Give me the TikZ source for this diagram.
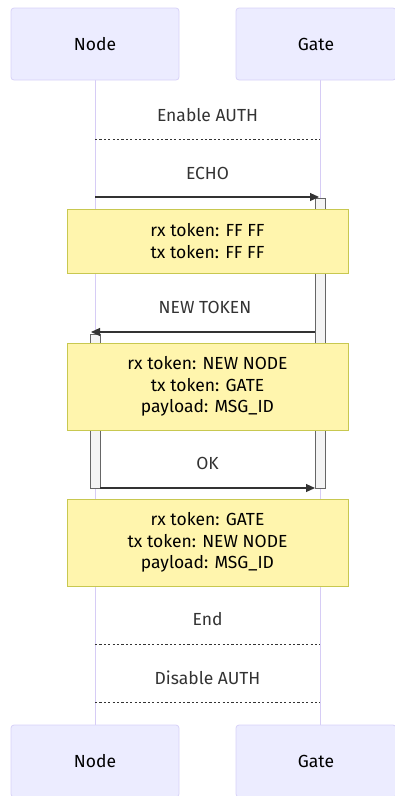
\documentclass[tikz,border=0pt]{standalone}
\usepackage{fontspec}
\setmainfont{Fira Sans}
\usetikzlibrary{arrows.meta}
\definecolor{actorfill}{HTML}{ECECFF}
\definecolor{actorline}{HTML}{D8D2F8}
\definecolor{lifeline}{HTML}{D6CCF5}
\definecolor{notefill}{HTML}{FFF5AD}
\definecolor{noteline}{HTML}{C8C850}
\definecolor{actfill}{HTML}{F4F4F4}
\definecolor{actline}{HTML}{666666}
\definecolor{ink}{HTML}{333333}
\tikzset{
  actor/.style={draw=actorline, fill=actorfill, rounded corners=3pt, line width=0.8pt,
    minimum width=168pt, minimum height=72pt, inner sep=0pt, font=\fontsize{17.5}{20}\selectfont, text=black},
  note/.style={draw=noteline, fill=notefill, line width=0.8pt, minimum width=281pt,
    inner sep=0pt, align=center, font=\fontsize{17.5}{21.5}\selectfont, text=black},
  msglabel/.style={font=\fontsize{17.5}{20}\selectfont, text=ink, inner sep=0pt},
  life/.style={draw=lifeline, line width=1pt},
  activation/.style={draw=actline, fill=actfill, line width=0.5pt},
  msg/.style={draw=ink, line width=1.2pt, -{Triangle[length=9pt,width=8pt]}},
  divider/.style={draw=ink, line width=0.8pt, dash pattern=on 2.2pt off 2.2pt}
}
\begin{document}
\begin{tikzpicture}[x=1pt,y=-1pt]
\useasboundingbox (0,0) rectangle (395,796);
% lifelines
\coordinate (nodeTop) at (95,80);
\coordinate (nodeBot) at (95,725);
\coordinate (gateTop) at (320,80);
\coordinate (gateBot) at (320,725);
\draw[life] (nodeTop) -- (nodeBot);
\draw[life] (gateTop) -- (gateBot);
% participants
\node[actor] (nodeA) at (95,44) {Node};
\node[actor, minimum width=160pt] (gateA) at (316,44) {Gate};
\node[actor] (nodeB) at (95,761) {Node};
\node[actor, minimum width=160pt] (gateB) at (316,761) {Gate};
% activation bars
\draw[activation] (315,198) rectangle (325,488);
\draw[activation] (90,334) rectangle (100,488);
% section dividers
\node[msglabel] (enable) at (207.5,115) {Enable AUTH};
\coordinate (e1) at (95,139); \coordinate (e2) at (320,139);
\draw[divider] (e1) -- (e2);
\node[msglabel] (endl) at (207.5,619) {End};
\coordinate (d1) at (95,644); \coordinate (d2) at (320,644);
\draw[divider] (d1) -- (d2);
\node[msglabel] (disable) at (207.5,678) {Disable AUTH};
\coordinate (f1) at (95,702); \coordinate (f2) at (320,702);
\draw[divider] (f1) -- (f2);
% messages
\node[msglabel] (echo) at (207.5,173) {ECHO};
\coordinate (m1a) at (95,197); \coordinate (m1b) at (319,197);
\draw[msg] (m1a) -- (m1b);
\node[msglabel] (newtok) at (205,307) {NEW TOKEN};
\coordinate (m2a) at (315,332); \coordinate (m2b) at (91,332);
\draw[msg] (m2a) -- (m2b);
\node[msglabel] (ok) at (207.5,463) {OK};
\coordinate (m3a) at (100,488); \coordinate (m3b) at (315,488);
\draw[msg] (m3a) -- (m3b);
% notes
\node[note, minimum height=64pt] (n1) at (207.5,241) {rx token: FF FF\\tx token: FF FF};
\node[note, minimum height=87pt] (n2) at (207.5,386.5) {rx token: NEW NODE\\tx token: GATE\\payload: MSG\_ID};
\node[note, minimum height=87pt] (n3) at (207.5,542.5) {rx token: GATE\\tx token: NEW NODE\\payload: MSG\_ID};
\end{tikzpicture}
\end{document}
